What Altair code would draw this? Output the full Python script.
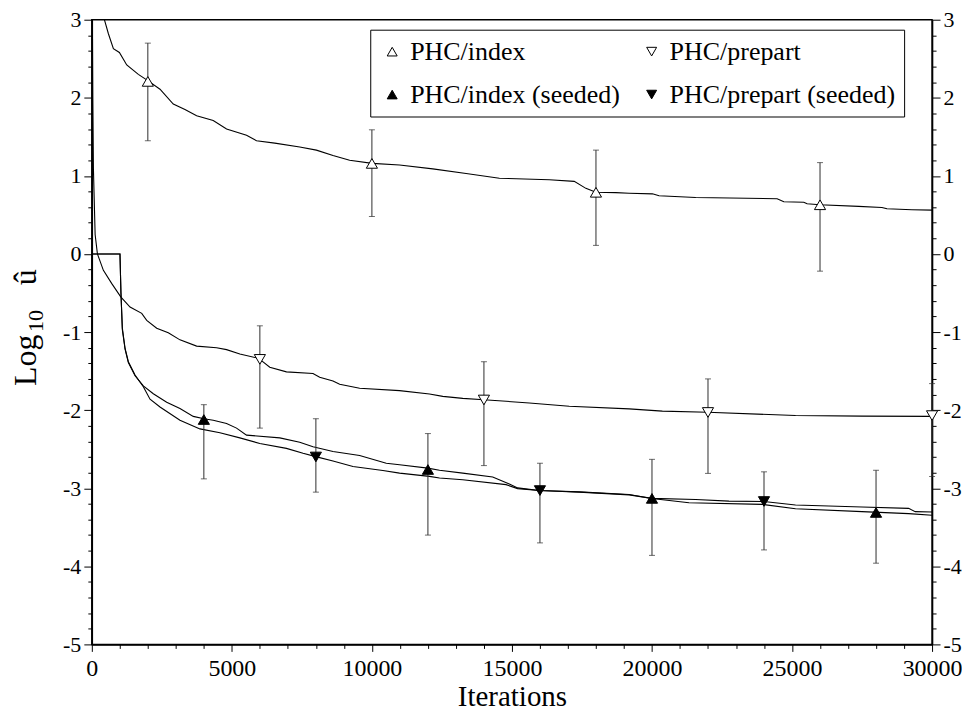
import altair as alt
import pandas as pd

# ---------------- data ----------------
# PHC/index (unseeded) running curve
A_x = [250, 449, 592, 770, 984, 1247, 1661, 2000, 2434, 2908, 3325, 3742, 4334, 4811, 5524, 5880,
       6532, 7423, 8018, 8611, 9205, 10014, 10987, 12174, 13364, 14551, 16333, 17224, 17640, 17997,
       18710, 19184, 20015, 20253, 21561, 24469, 24707, 25420, 25539, 25991, 27380, 28211, 28390,
       29281, 30000]
A_y = [4.0, 3.0, 2.82, 2.63, 2.58, 2.42, 2.30, 2.22, 2.11, 1.92, 1.85, 1.77, 1.71, 1.60, 1.52, 1.45,
       1.42, 1.37, 1.33, 1.26, 1.20, 1.16, 1.14, 1.09, 1.03, 0.97, 0.95, 0.93, 0.84, 0.79,
       0.786, 0.778, 0.77, 0.745, 0.723, 0.707, 0.668, 0.663, 0.643, 0.63, 0.609, 0.596, 0.58,
       0.567, 0.562]

# PHC/prepart (unseeded) running curve
B_x = [0, 21, 35, 57, 118, 200, 413, 713, 1033, 1365, 1782, 1960, 2316, 2730, 3147, 3742, 4455,
       4811, 5285, 5880, 6000, 6354, 6949, 7897, 8136, 8611, 8849, 9562, 10987, 12056, 12531,
       13244, 13992, 15621, 17046, 19184, 20371, 21989, 25125, 27499, 30000]
B_y = [4.4, 2.95, 1.98, 1.09, 0.25, 0.0, -0.21, -0.38, -0.55, -0.68, -0.76, -0.85, -0.95, -1.01,
       -1.10, -1.18, -1.20, -1.225, -1.28, -1.33, -1.35, -1.45, -1.51, -1.53, -1.58, -1.626,
       -1.668, -1.72, -1.75, -1.794, -1.824, -1.849, -1.866, -1.908, -1.95, -1.984, -2.013,
       -2.026, -2.069, -2.077, -2.08]

# PHC/index (seeded) running curve
C_x = [0, 1005, 1040, 1090, 1187, 1304, 1543, 1839, 2195, 2673, 3147, 3622, 4002, 4334, 4811,
       5167, 5524, 6711, 7423, 7897, 8611, 9562, 10513, 10987, 11996, 12413, 13244, 14313, 14907,
       15204, 15977, 17403, 19184, 19993, 21322, 23935, 25125, 27499, 29162, 30000]
C_y = [0, 0, -0.5, -0.97, -1.22, -1.39, -1.56, -1.69, -1.79, -1.90, -1.98, -2.08, -2.11, -2.13,
       -2.17, -2.23, -2.32, -2.355, -2.41, -2.47, -2.53, -2.58, -2.68, -2.70, -2.743, -2.77,
       -2.806, -2.857, -2.946, -2.996, -3.03, -3.047, -3.081, -3.131, -3.186, -3.207, -3.262,
       -3.30, -3.325, -3.347]

# PHC/prepart (seeded) running curve
D_x = [0, 1005, 1040, 1090, 1187, 1304, 1543, 1839, 2078, 2434, 3147, 3860, 4573, 5285, 5998,
       6949, 7541, 7993, 8611, 9324, 10392, 10987, 12056, 12413, 13244, 14790, 15204, 15977,
       17403, 19184, 19993, 21561, 22747, 23994, 25125, 27499, 29162, 29400, 30000]
D_y = [0, 0, -0.5, -0.95, -1.21, -1.38, -1.55, -1.70, -1.86, -1.96, -2.13, -2.24, -2.29, -2.355,
       -2.427, -2.49, -2.553, -2.595, -2.651, -2.722, -2.772, -2.806, -2.848, -2.87, -2.891,
       -2.954, -3.005, -3.03, -3.05, -3.085, -3.13, -3.144, -3.165, -3.17, -3.215, -3.24,
       -3.258, -3.30, -3.304]

series = ["PHC/index", "PHC/prepart", "PHC/index (seeded)", "PHC/prepart (seeded)"]
shapes = ["triangle-up", "triangle-down", "triangle-up", "triangle-down"]
fills = ["white", "white", "black", "black"]
strokes = ["black", "black", "black", "black"]

# markers with error bars
M1_x = [2000, 10000, 18000, 26000]
M1_y = [2.21, 1.16, 0.79, 0.63]
M1_hi = [2.70, 1.59, 1.33, 1.17]
M1_lo = [1.45, 0.48, 0.11, -0.22]

M2_x = [6000, 14000, 22000, 30000]
M2_y = [-1.35, -1.87, -2.03, -2.07]
M2_hi = [-0.92, -1.38, -1.60, -1.66]
M2_lo = [-2.23, -2.71, -2.81, -2.85]

M3_x = [4000, 12000, 20000, 28000]
M3_y = [-2.12, -2.76, -3.13, -3.31]
M3_hi = [-1.93, -2.30, -2.63, -2.77]
M3_lo = [-2.88, -3.60, -3.86, -3.96]

M4_x = [8000, 16000, 24000]
M4_y = [-2.60, -3.03, -3.17]
M4_hi = [-2.11, -2.68, -2.79]
M4_lo = [-3.05, -3.70, -3.79]

x_ticks = list(range(0, 30001, 1000))
y_ticks = [round(-5 + 0.2 * i, 1) for i in range(41)]
y_title_parts = ["Log", "10", "û"]

# ---------------- tables ----------------
curves = []
for name, xs, ys in [("A", A_x, A_y), ("B", B_x, B_y), ("C", C_x, C_y), ("D", D_x, D_y)]:
    curves.append(pd.DataFrame({"curve": name, "x": xs, "y": ys, "ord": range(len(xs))}))
lines_df = pd.concat(curves, ignore_index=True)

marks = []
for name, xs, ys, hi, lo in [(series[0], M1_x, M1_y, M1_hi, M1_lo),
                             (series[1], M2_x, M2_y, M2_hi, M2_lo),
                             (series[2], M3_x, M3_y, M3_hi, M3_lo),
                             (series[3], M4_x, M4_y, M4_hi, M4_lo)]:
    marks.append(pd.DataFrame({"series": name, "x": xs, "y": ys, "hi": hi, "lo": lo}))
mk_df = pd.concat(marks, ignore_index=True)

FONT = "Liberation Serif"
ERR = "#2e2e2e"

x_scale = alt.Scale(domain=[0, 30000], nice=False, zero=False)
y_scale = alt.Scale(domain=[-5, 3], nice=False, zero=False)

x_axis = alt.Axis(
    values=x_ticks,
    labelExpr="datum.value % 5000 === 0 ? '' + datum.value : ''",
    tickSize={"condition": {"test": "datum.value % 5000 === 0", "value": 7}, "value": 4},
    labelFlush=False, labelOverlap=False, labelBound=False,
    labelFont=FONT, labelFontSize=24, labelColor="black", labelPadding=5,
    domainColor="black", domainWidth=1.5, tickColor="black", tickWidth=1,
    title="Iterations", titleFont=FONT, titleFontSize=29, titleFontWeight="normal",
    titleColor="black", titlePadding=2, grid=False,
)


def y_axis(orient):
    return alt.Axis(
        orient=orient,
        values=y_ticks,
        labelExpr="round(datum.value) === datum.value ? '' + datum.value : ''",
        tickSize={"condition": {"test": "round(datum.value) === datum.value", "value": 8}, "value": 4},
        labelOverlap=False, labelFlush=False, labelBound=False,
        labelFont=FONT, labelFontSize=22, labelColor="black", labelPadding=3,
        domainColor="black", domainWidth=1.5, tickColor="black", tickWidth=1,
        title=None, grid=False,
    )


LEFT = y_axis("left")
RIGHT = y_axis("right")


def X(field="x"):
    return alt.X(f"{field}:Q", scale=x_scale, axis=x_axis)


def YL(field):
    return alt.Y(f"{field}:Q", scale=y_scale, axis=LEFT)


legend = alt.Legend(
    title=None, orient="none", legendX=279, legendY=10, columns=2, direction="horizontal",
    labelFont=FONT, labelFontSize=26, labelColor="black", labelLimit=400,
    symbolSize=100, symbolStrokeWidth=1,
    padding=9, strokeColor="black", fillColor="white",
    rowPadding=17, columnPadding=18, labelOffset=5, symbolOffset=0,
)

lines = alt.Chart(lines_df).mark_line(color="black", strokeWidth=1.1, clip=True).encode(
    x=X(), y=YL("y"), detail="curve:N", order="ord:Q",
)

errbars = alt.Chart(mk_df).mark_rule(color=ERR, strokeWidth=1).encode(
    x=X(), y=YL("hi"), y2="lo:Q"
)
cap_hi = alt.Chart(mk_df).mark_tick(color=ERR, orient="horizontal", size=6, thickness=1).encode(
    x=X(), y=YL("hi")
)
cap_lo = alt.Chart(mk_df).mark_tick(color=ERR, orient="horizontal", size=6, thickness=1).encode(
    x=X(), y=YL("lo")
)

points = alt.Chart(mk_df).mark_point(filled=True, size=125, strokeWidth=1, opacity=1).encode(
    x=X(),
    y=YL("y"),
    shape=alt.Shape("series:N", scale=alt.Scale(domain=series, range=shapes), legend=legend),
    fill=alt.Fill("series:N", scale=alt.Scale(domain=series, range=fills), legend=legend),
    stroke=alt.Stroke("series:N", scale=alt.Scale(domain=series, range=strokes), legend=legend),
)

title_df = pd.DataFrame({"t": y_title_parts})
t_log = alt.Chart(title_df[title_df.t == y_title_parts[0]]).mark_text(
    font=FONT, fontSize=32, angle=270, align="left", baseline="alphabetic", color="black"
).encode(text="t:N", x=alt.value(-56), y=alt.value(367))
t_sub = alt.Chart(title_df[title_df.t == y_title_parts[1]]).mark_text(
    font=FONT, fontSize=22, angle=270, align="left", baseline="alphabetic", color="black"
).encode(text="t:N", x=alt.value(-49), y=alt.value(313))
t_u = alt.Chart(title_df[title_df.t == y_title_parts[2]]).mark_text(
    font=FONT, fontSize=32, angle=270, align="left", baseline="alphabetic", color="black"
).encode(text="t:N", x=alt.value(-56), y=alt.value(266))

main = alt.layer(lines, errbars, cap_hi, cap_lo, points, t_log, t_sub, t_u)

right = alt.Chart(lines_df).mark_line(opacity=0).encode(
    x=X(),
    y=alt.Y("y:Q", scale=y_scale, axis=RIGHT),
    detail="curve:N",
)

chart = alt.layer(main, right).resolve_scale(y="independent").properties(
    width=842, height=626,
    autosize=alt.AutoSizeParams(type="none"),
    padding={"left": 84, "top": 11, "right": 30, "bottom": 66},
    background="white",
).configure_view(stroke="black", strokeWidth=1.5)

chart.save("out.html", embed_options={"renderer": "svg", "actions": False})
